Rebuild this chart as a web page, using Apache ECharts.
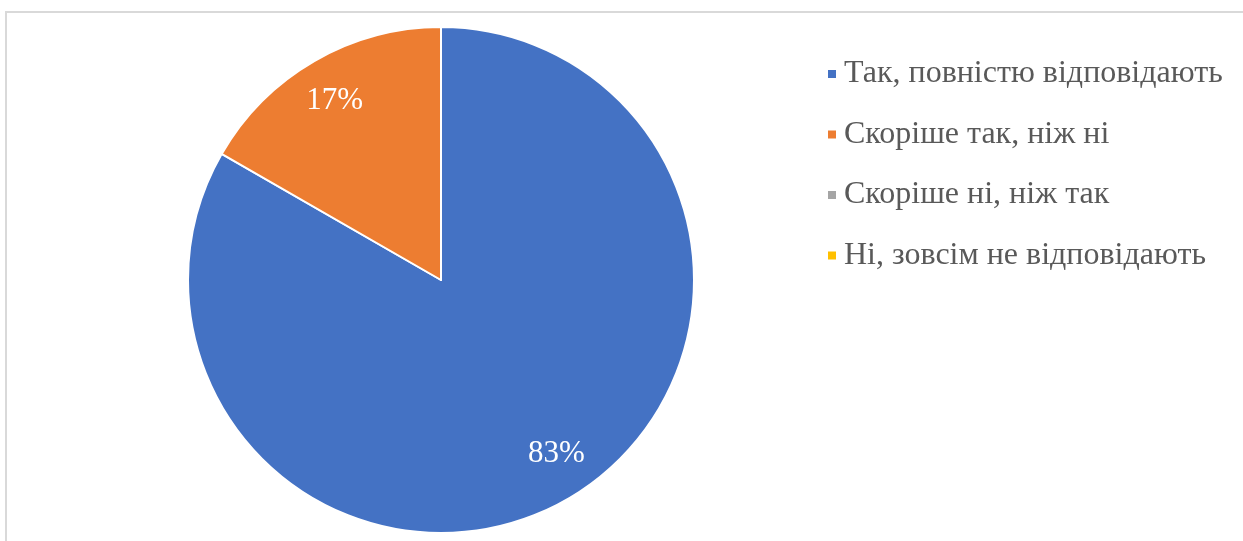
<!DOCTYPE html>
<html>
<head>
<meta charset="utf-8">
<script src="https://cdn.jsdelivr.net/npm/echarts@6/dist/echarts.min.js"></script>
<style>
html,body{margin:0;padding:0;background:#fff;}
#frame{position:absolute;left:5px;top:11px;width:1300px;height:600px;border:2px solid #d9d9d9;box-sizing:border-box;}
#chart{position:absolute;left:0;top:0;width:1243px;height:541px;}
</style>
</head>
<body>
<div id="frame"></div>
<div id="chart"></div>
<script>
const categories = ['Так, повністю відповідають', 'Скоріше так, ніж ні', 'Скоріше ні, ніж так', 'Ні, зовсім не відповідають'];
const values = [83.3, 16.7, 0, 0];
const colors = ['#4472C4', '#ED7D31', '#A5A5A5', '#FFC000'];

const chart = echarts.init(document.getElementById('chart'));
const center = [441, 280];
const R = 253;
const labelShift = [[9, -10], [0, 5], [0, 0], [0, 0]];
chart.setOption({
  animation: false,
  color: colors,
  legend: {
    orient: 'vertical',
    left: 823,
    top: 53,
    icon: 'rect',
    itemWidth: 8,
    itemHeight: 8,
    itemGap: 28.5,
    itemStyle: { borderWidth: 0 },
    data: categories,
    textStyle: { fontFamily: 'Liberation Serif', fontSize: 32, color: '#595959', lineHeight: 32, padding: [0, 0, 0, 3] }
  },
  series: [
    {
      type: 'pie',
      center: center,
      radius: [0, R],
      startAngle: 90,
      clockwise: true,
      data: categories.map((n, i) => ({ name: n, value: values[i] })),
      itemStyle: { borderColor: '#fff', borderWidth: 2 },
      label: { show: false },
      labelLine: { show: false },
      emphasis: { disabled: true }
    },
    {
      type: 'pie',
      center: center,
      radius: [166, R],
      startAngle: 90,
      clockwise: true,
      silent: true,
      data: categories.map((n, i) => ({ name: 'lbl' + i, value: values[i] })),
      itemStyle: { color: 'rgba(0,0,0,0)' },
      label: {
        show: true,
        position: 'inside',
        color: '#fff',
        fontFamily: 'Liberation Serif',
        fontSize: 31,
        formatter: p => p.value > 0 ? Math.round(p.percent) + '%' : ''
      },
      labelLayout: p => ({ dx: labelShift[p.dataIndex][0], dy: labelShift[p.dataIndex][1] }),
      labelLine: { show: false },
      emphasis: { disabled: true }
    }
  ]
});
</script>
</body>
</html>
